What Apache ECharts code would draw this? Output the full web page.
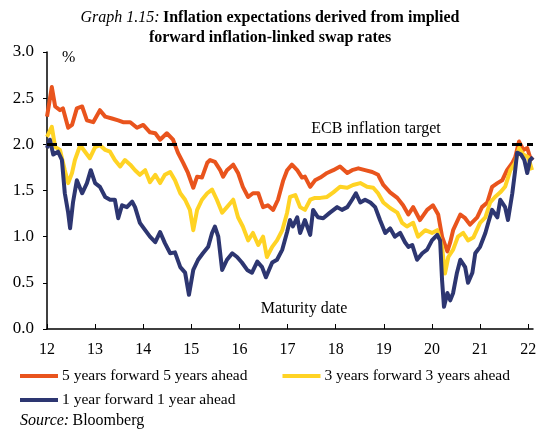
<!DOCTYPE html>
<html>
<head>
<meta charset="utf-8">
<script src="https://cdn.jsdelivr.net/npm/echarts@6/dist/echarts.min.js"></script>
<style>
  html, body { margin: 0; padding: 0; background: #fff; }
  #chart { width: 542px; height: 432px; }
</style>
</head>
<body>
<div id="chart"></div>
<script>
const seriesNames = ['5 years forward 5 years ahead', '3 years forward 3 years ahead', '1 year forward 1 year ahead']
const seriesColors = ['#E9541D', '#FFD324', '#2D3671']
const xTicks = [12, 13, 14, 15, 16, 17, 18, 19, 20, 21, 22]
const target = 2

// [maturity year (20xx), rate %]
const fwd5y5y = [
  [12.00, 2.30], [12.10, 2.62], [12.17, 2.41], [12.27, 2.37], [12.33, 2.39], [12.44, 2.18],
  [12.52, 2.21], [12.62, 2.39], [12.73, 2.41], [12.83, 2.26], [12.96, 2.24], [13.10, 2.37],
  [13.21, 2.30], [13.35, 2.28], [13.48, 2.26], [13.58, 2.24], [13.73, 2.24], [13.87, 2.18],
  [14.00, 2.21], [14.14, 2.13], [14.25, 2.12], [14.35, 2.05], [14.49, 2.12], [14.62, 2.05],
  [14.72, 1.91], [14.83, 1.80], [14.93, 1.69], [15.04, 1.53], [15.12, 1.65], [15.22, 1.64],
  [15.33, 1.80], [15.39, 1.83], [15.49, 1.81], [15.60, 1.72], [15.66, 1.65], [15.74, 1.72],
  [15.87, 1.78], [15.97, 1.69], [16.07, 1.54], [16.18, 1.43], [16.28, 1.47], [16.39, 1.47],
  [16.49, 1.32], [16.59, 1.34], [16.70, 1.29], [16.80, 1.40], [16.91, 1.61], [16.99, 1.72],
  [17.09, 1.78], [17.20, 1.72], [17.30, 1.64], [17.36, 1.65], [17.47, 1.54], [17.57, 1.61],
  [17.68, 1.64], [17.82, 1.69], [17.95, 1.72], [18.09, 1.76], [18.24, 1.69], [18.34, 1.72],
  [18.47, 1.74], [18.61, 1.72], [18.76, 1.70], [18.88, 1.67], [18.99, 1.56], [19.13, 1.48],
  [19.28, 1.42], [19.40, 1.34], [19.51, 1.24], [19.61, 1.32], [19.75, 1.18], [19.90, 1.29],
  [20.02, 1.34], [20.13, 1.24], [20.21, 1.00], [20.32, 0.84], [20.38, 0.94], [20.44, 1.07],
  [20.59, 1.24], [20.69, 1.20], [20.79, 1.13], [20.94, 1.21], [21.04, 1.32], [21.15, 1.37],
  [21.25, 1.54], [21.36, 1.58], [21.46, 1.61], [21.56, 1.72], [21.67, 1.80], [21.73, 1.86],
  [21.81, 2.03], [21.90, 1.94], [21.98, 1.96], [22.04, 1.86], [22.10, 1.83]
]

const fwd3y3y = [
  [12.00, 2.08], [12.10, 2.19], [12.17, 1.97], [12.27, 1.94], [12.37, 1.72], [12.44, 1.58],
  [12.52, 1.69], [12.58, 1.83], [12.69, 1.99], [12.79, 1.92], [12.89, 1.85], [13.00, 1.97],
  [13.10, 1.99], [13.21, 1.94], [13.31, 1.92], [13.41, 1.83], [13.52, 1.76], [13.62, 1.83],
  [13.73, 1.78], [13.83, 1.72], [13.93, 1.67], [14.04, 1.72], [14.14, 1.59], [14.25, 1.67],
  [14.35, 1.58], [14.45, 1.67], [14.56, 1.70], [14.66, 1.61], [14.77, 1.47], [14.87, 1.40],
  [14.97, 1.29], [15.04, 1.07], [15.12, 1.29], [15.22, 1.40], [15.33, 1.47], [15.43, 1.51],
  [15.53, 1.40], [15.64, 1.26], [15.74, 1.32], [15.87, 1.40], [15.97, 1.21], [16.07, 1.11],
  [16.18, 0.96], [16.28, 1.04], [16.39, 0.91], [16.49, 1.00], [16.57, 0.78], [16.68, 0.89],
  [16.78, 0.96], [16.89, 1.07], [16.99, 1.26], [17.05, 1.43], [17.16, 1.45], [17.26, 1.32],
  [17.36, 1.29], [17.47, 1.40], [17.57, 1.42], [17.68, 1.42], [17.82, 1.43], [17.95, 1.48],
  [18.09, 1.54], [18.24, 1.53], [18.36, 1.56], [18.51, 1.58], [18.65, 1.54], [18.78, 1.53],
  [18.88, 1.47], [18.99, 1.37], [19.13, 1.31], [19.28, 1.26], [19.38, 1.15], [19.48, 1.11],
  [19.61, 1.15], [19.71, 1.00], [19.86, 1.07], [20.00, 1.04], [20.11, 1.07], [20.21, 0.89],
  [20.27, 0.60], [20.34, 0.78], [20.44, 0.86], [20.54, 1.00], [20.65, 1.04], [20.75, 0.96],
  [20.86, 0.99], [21.00, 1.15], [21.11, 1.21], [21.21, 1.37], [21.31, 1.43], [21.42, 1.48],
  [21.52, 1.54], [21.63, 1.72], [21.73, 1.80], [21.81, 1.96], [21.90, 1.89], [22.00, 1.86],
  [22.08, 1.72]
]

const fwd1y1y = [
  [12.00, 1.96], [12.06, 2.05], [12.13, 1.89], [12.23, 1.92], [12.31, 1.83], [12.37, 1.47],
  [12.44, 1.26], [12.48, 1.09], [12.54, 1.37], [12.62, 1.61], [12.73, 1.47], [12.83, 1.58],
  [12.91, 1.72], [13.00, 1.58], [13.10, 1.54], [13.21, 1.43], [13.31, 1.40], [13.41, 1.40],
  [13.48, 1.20], [13.56, 1.34], [13.66, 1.32], [13.77, 1.38], [13.83, 1.32], [13.93, 1.15],
  [14.04, 1.07], [14.14, 1.00], [14.25, 0.94], [14.35, 1.05], [14.45, 0.93], [14.56, 0.82],
  [14.66, 0.83], [14.77, 0.67], [14.87, 0.61], [14.95, 0.37], [15.04, 0.64], [15.14, 0.75],
  [15.24, 0.82], [15.35, 0.89], [15.43, 1.04], [15.49, 1.11], [15.56, 1.00], [15.64, 0.64],
  [15.74, 0.75], [15.85, 0.82], [15.95, 0.78], [16.05, 0.72], [16.16, 0.64], [16.26, 0.61],
  [16.37, 0.73], [16.47, 0.67], [16.55, 0.56], [16.68, 0.72], [16.78, 0.75], [16.89, 0.86],
  [16.99, 1.05], [17.05, 1.18], [17.11, 1.11], [17.20, 1.21], [17.26, 1.04], [17.36, 1.18],
  [17.47, 1.02], [17.53, 1.29], [17.63, 1.21], [17.74, 1.20], [17.88, 1.26], [18.03, 1.32],
  [18.13, 1.29], [18.24, 1.32], [18.34, 1.40], [18.42, 1.47], [18.51, 1.37], [18.61, 1.40],
  [18.72, 1.37], [18.82, 1.32], [18.92, 1.18], [19.03, 1.04], [19.13, 1.09], [19.23, 1.00],
  [19.34, 1.04], [19.44, 0.94], [19.51, 0.89], [19.59, 0.91], [19.69, 0.75], [19.80, 0.82],
  [19.90, 0.86], [20.00, 0.96], [20.11, 1.02], [20.17, 0.96], [20.21, 0.53], [20.25, 0.24],
  [20.32, 0.39], [20.38, 0.31], [20.44, 0.39], [20.52, 0.61], [20.59, 0.75], [20.69, 0.67],
  [20.75, 0.50], [20.84, 0.61], [20.90, 0.82], [21.00, 0.89], [21.11, 1.04], [21.17, 1.15],
  [21.25, 1.29], [21.36, 1.21], [21.42, 1.40], [21.52, 1.32], [21.58, 1.18], [21.67, 1.47],
  [21.73, 1.72], [21.77, 1.91], [21.85, 1.89], [21.92, 1.83], [21.98, 1.69], [22.04, 1.83],
  [22.10, 1.86]
]

const serif = '"Liberation Serif", "Times New Roman", serif'
const chart = echarts.init(document.getElementById('chart'), null, { renderer: 'canvas' })

const lineSeries = [fwd5y5y, fwd3y3y, fwd1y1y].map((d, i) => ({
  name: seriesNames[i],
  type: 'line',
  data: d,
  showSymbol: false,
  symbol: 'none',
  lineStyle: { color: seriesColors[i], width: 4, join: 'round' },
  itemStyle: { color: seriesColors[i] }
}))

const legendText = { fontSize: 15.5, fontFamily: serif, color: '#000', padding: [0, 0, 0, -1] }

chart.setOption({
  animation: false,
  textStyle: { fontFamily: serif, color: '#000' },
  grid: { left: 47, right: 9, top: 52, bottom: 103 },
  xAxis: {
    type: 'value',
    min: 12,
    max: 22.1,
    splitLine: { show: false },
    axisLine: { lineStyle: { color: '#000', width: 1.5 } },
    axisTick: { inside: true, length: 5, lineStyle: { color: '#000' }, customValues: xTicks },
    axisLabel: { customValues: xTicks, color: '#000', fontSize: 16, fontFamily: serif, margin: 13 }
  },
  yAxis: {
    type: 'value',
    min: 0,
    max: 3,
    interval: 0.5,
    splitLine: { show: false },
    axisLine: { show: true, lineStyle: { color: '#000', width: 1.5 } },
    axisTick: { show: true, length: 4, lineStyle: { color: '#000' } },
    axisLabel: { color: '#000', fontSize: 17, fontFamily: serif, margin: 13, formatter: v => v.toFixed(1) }
  },
  legend: [
    {
      data: seriesNames.slice(0, 2),
      left: 15, top: 363,
      icon: 'rect', itemWidth: 38, itemHeight: 4, itemGap: 35,
      textStyle: legendText
    },
    {
      data: seriesNames.slice(2),
      left: 15, top: 387,
      icon: 'rect', itemWidth: 38, itemHeight: 4,
      textStyle: legendText
    }
  ],
  graphic: [
    {
      type: 'text', x: 270, y: 18,
      style: {
        text: '{i|Graph 1.15:} {b|Inflation expectations derived from implied}',
        align: 'center', verticalAlign: 'middle',
        rich: {
          i: { fontFamily: serif, fontSize: 16, fontStyle: 'italic', fill: '#000' },
          b: { fontFamily: serif, fontSize: 16, fontWeight: 'bold', fill: '#000' }
        }
      }
    },
    {
      type: 'text', x: 270, y: 38,
      style: {
        text: 'forward inflation-linked swap rates',
        align: 'center', verticalAlign: 'middle',
        font: 'bold 16px ' + serif, fill: '#000'
      }
    },
    {
      type: 'text', x: 62, y: 58,
      style: { text: '%', align: 'left', verticalAlign: 'middle', font: '16px ' + serif, fill: '#000' }
    },
    {
      type: 'text', x: 376, y: 129,
      style: { text: 'ECB inflation target', align: 'center', verticalAlign: 'middle', font: '16px ' + serif, fill: '#000' }
    },
    {
      type: 'text', x: 304, y: 309,
      style: { text: 'Maturity date', align: 'center', verticalAlign: 'middle', font: '16px ' + serif, fill: '#000' }
    },
    {
      type: 'text', x: 20, y: 421,
      style: {
        text: '{i|Source:} {n|Bloomberg}',
        align: 'left', verticalAlign: 'middle',
        rich: {
          i: { fontFamily: serif, fontSize: 16, fontStyle: 'italic', fill: '#000' },
          n: { fontFamily: serif, fontSize: 16, fill: '#000' }
        }
      }
    }
  ],
  series: [
    ...lineSeries,
    {
      name: 'target',
      type: 'line',
      data: [],
      markLine: {
        silent: true,
        symbol: 'none',
        label: { show: false },
        lineStyle: { color: '#000', type: [10, 5], width: 3 },
        data: [{ yAxis: target }]
      }
    }
  ]
})
</script>
</body>
</html>
